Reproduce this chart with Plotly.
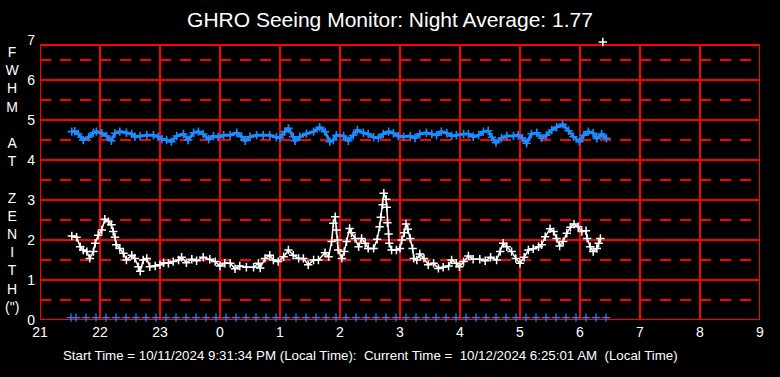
import plotly.graph_objects as go

# ---------------- data ----------------
hour_ticks = [21, 22, 23, 24, 25, 26, 27, 28, 29, 30, 31, 32, 33]
hour_labels = ["21", "22", "23", "0", "1", "2", "3", "4", "5", "6", "7", "8", "9"]
fwhm_ticks = [0, 1, 2, 3, 4, 5, 6, 7]

blue_t = [21.53, 21.58, 21.64, 21.72, 21.81, 21.89, 21.94, 22.03, 22.11, 22.19,
          22.25, 22.33, 22.44, 22.53, 22.58, 22.67, 22.78, 22.89, 22.97, 23.03,
          23.11, 23.19, 23.28, 23.39, 23.47, 23.56, 23.64, 23.72, 23.81, 23.89,
          23.97, 24.06, 24.17, 24.28, 24.36, 24.42, 24.5, 24.61, 24.72, 24.83,
          24.94, 25.0, 25.08, 25.14, 25.22, 25.25, 25.33, 25.44, 25.56, 25.66,
          25.75, 25.83, 25.89, 25.94, 26.06, 26.14, 26.22, 26.29, 26.39, 26.47,
          26.56, 26.64, 26.72, 26.81, 26.89, 26.97, 27.06, 27.17, 27.25, 27.33,
          27.44, 27.53, 27.61, 27.69, 27.78, 27.86, 27.94, 28.06, 28.14, 28.22,
          28.31, 28.39, 28.47, 28.53, 28.6, 28.69, 28.78, 28.89, 28.97, 29.04,
          29.11, 29.19, 29.28, 29.36, 29.44, 29.53, 29.61, 29.71, 29.81, 29.89,
          29.99, 30.06, 30.14, 30.22, 30.28, 30.36, 30.44]
blue_v = [4.71, 4.72, 4.65, 4.50, 4.57, 4.68, 4.71, 4.67, 4.60, 4.48,
          4.67, 4.71, 4.68, 4.65, 4.58, 4.60, 4.62, 4.62, 4.58, 4.52,
          4.50, 4.46, 4.60, 4.65, 4.50, 4.68, 4.71, 4.65, 4.52, 4.60,
          4.57, 4.62, 4.62, 4.68, 4.58, 4.48, 4.58, 4.62, 4.62, 4.62,
          4.57, 4.55, 4.71, 4.79, 4.58, 4.48, 4.58, 4.66, 4.71, 4.82,
          4.71, 4.46, 4.50, 4.62, 4.60, 4.48, 4.62, 4.75, 4.68, 4.65,
          4.57, 4.55, 4.65, 4.71, 4.67, 4.60, 4.58, 4.60, 4.55, 4.65,
          4.68, 4.65, 4.62, 4.71, 4.67, 4.60, 4.62, 4.65, 4.65, 4.58,
          4.62, 4.71, 4.73, 4.57, 4.43, 4.55, 4.60, 4.60, 4.62, 4.55,
          4.42, 4.65, 4.68, 4.55, 4.62, 4.75, 4.82, 4.89, 4.73, 4.58,
          4.46, 4.62, 4.71, 4.67, 4.54, 4.65, 4.54]

white_t = [21.53, 21.61, 21.67, 21.72, 21.78, 21.83, 21.89, 21.92, 21.97, 22.03,
           22.08, 22.14, 22.19, 22.22, 22.25, 22.27, 22.33, 22.39, 22.44, 22.53,
           22.58, 22.64, 22.67, 22.72, 22.78, 22.83, 22.92, 23.00, 23.06, 23.14,
           23.22, 23.31, 23.36, 23.44, 23.53, 23.61, 23.72, 23.83, 23.92, 24.00,
           24.08, 24.17, 24.25, 24.33, 24.44, 24.56, 24.64, 24.67, 24.75, 24.83,
           24.89, 24.97, 25.06, 25.14, 25.22, 25.31, 25.39, 25.47, 25.56, 25.64,
           25.75, 25.81, 25.86, 25.89, 25.92, 25.94, 25.96, 25.97, 26.03, 26.07,
           26.11, 26.16, 26.19, 26.25, 26.31, 26.36, 26.42, 26.47, 26.56, 26.62,
           26.66, 26.68, 26.71, 26.73, 26.77, 26.78, 26.79, 26.81, 26.82, 26.86,
           26.94, 27.00, 27.03, 27.07, 27.10, 27.13, 27.17, 27.21, 27.23, 27.28,
           27.33, 27.40, 27.47, 27.56, 27.64, 27.72, 27.81, 27.86, 27.94, 27.99,
           28.06, 28.14, 28.22, 28.33, 28.42, 28.51, 28.61, 28.67, 28.72, 28.78,
           28.86, 28.93, 29.00, 29.07, 29.14, 29.22, 29.31, 29.36, 29.42, 29.50,
           29.56, 29.61, 29.66, 29.72, 29.78, 29.84, 29.90, 29.97, 30.03, 30.10,
           30.12, 30.17, 30.22, 30.28, 30.31, 30.34]
white_v = [2.10, 2.07, 1.83, 1.75, 1.71, 1.54, 1.71, 1.92, 2.12, 2.25,
           2.52, 2.46, 2.38, 2.21, 2.07, 1.88, 1.79, 1.67, 1.50, 1.62,
           1.54, 1.33, 1.22, 1.50, 1.54, 1.33, 1.35, 1.38, 1.43, 1.42,
           1.46, 1.50, 1.57, 1.43, 1.52, 1.48, 1.57, 1.52, 1.46, 1.35,
           1.42, 1.42, 1.28, 1.35, 1.32, 1.32, 1.42, 1.30, 1.54, 1.62,
           1.50, 1.46, 1.58, 1.75, 1.62, 1.54, 1.54, 1.38, 1.50, 1.50,
           1.68, 1.58, 1.96, 2.42, 2.58, 2.25, 2.00, 1.75, 1.54, 1.71,
           1.96, 2.29, 2.18, 2.04, 1.83, 2.04, 1.92, 1.79, 1.79, 2.02,
           2.33, 2.57, 2.88, 3.17, 3.02, 2.82, 2.43, 2.15, 1.92, 1.75,
           1.75, 1.79, 2.00, 2.18, 2.40, 2.27, 2.04, 1.79, 1.54, 1.50,
           1.65, 1.54, 1.38, 1.42, 1.29, 1.32, 1.35, 1.50, 1.42, 1.33,
           1.46, 1.60, 1.52, 1.52, 1.48, 1.57, 1.50, 1.71, 1.92, 1.83,
           1.71, 1.54, 1.42, 1.57, 1.75, 1.78, 1.83, 1.88, 2.08, 2.28,
           2.21, 2.04, 1.85, 1.96, 2.17, 2.32, 2.40, 2.33, 2.21, 2.23,
           2.04, 1.83, 1.71, 1.79, 1.92, 2.04]

# single off-scale reading drawn above the frame
outlier_t = [30.38]
outlier_v = [6.95]

# bottom blue markers: minutes after 21:00
zero_minutes = [31, 36, 46, 56, 66, 76, 86, 96, 106, 116, 126, 136, 146, 156, 166,
                176, 186, 196, 206, 216, 226, 236, 246, 256, 266, 276, 286, 296,
                306, 316, 326, 336, 346, 356, 366, 376, 386, 396, 406, 416, 426,
                436, 446, 456, 466, 476, 486, 496, 506, 516, 526, 536, 546, 556, 566]
zero_level = 0.06

title_text = "GHRO Seeing Monitor: Night Average: 1.77"
footer_text = ("Start Time = 10/11/2024 9:31:34 PM (Local Time):\u00a0 Current Time =\u00a0 "
               "10/12/2024 6:25:01 AM\u00a0 (Local Time)")
ylabel_lines = ["F", "W", "H", "M", "\u00a0", "A", "T", "\u00a0",
                "Z", "E", "N", "I", "T", "H", "(\")"]

assert len(blue_t) == len(blue_v)
assert len(white_t) == len(white_v)

# ---------------- styling ----------------
FONT = "Arial, 'Liberation Sans', sans-serif"
BLUE = "#1E8CFF"
RED = "#FF0000"
X0, X1 = 21, 33
YTOP = 6.875

fig = go.Figure()

# blue series: dense crosses forming a band
fig.add_trace(go.Scatter(
    x=blue_t, y=blue_v, mode="lines+markers",
    line=dict(color=BLUE, width=3),
    marker=dict(symbol="cross-thin", size=6, line=dict(width=1.6, color=BLUE)),
    hoverinfo="skip", showlegend=False, cliponaxis=False))

# white series
fig.add_trace(go.Scatter(
    x=white_t, y=white_v, mode="lines+markers",
    line=dict(color="white", width=1.5),
    marker=dict(symbol="cross-thin", size=6, line=dict(width=1.5, color="white")),
    hoverinfo="skip", showlegend=False, cliponaxis=False))

fig.add_trace(go.Scatter(
    x=outlier_t, y=outlier_v, mode="markers",
    marker=dict(symbol="cross-thin", size=6, line=dict(width=1.6, color="white")),
    hoverinfo="skip", showlegend=False, cliponaxis=False))

fig.add_trace(go.Scatter(
    x=[X0 + m / 60 for m in zero_minutes], y=[zero_level] * len(zero_minutes),
    mode="markers",
    marker=dict(symbol="cross-thin", size=6, line=dict(width=1.2, color=BLUE)),
    hoverinfo="skip", showlegend=False, cliponaxis=False))

shapes = []
for v in [1, 2, 3, 4, 5, 6]:
    shapes.append(dict(type="line", xref="x", yref="y", x0=X0, x1=X1, y0=v, y1=v,
                       line=dict(color=RED, width=2), layer="below"))
for v in [0.5, 1.5, 2.5, 3.5, 4.5, 5.5, 6.5]:
    shapes.append(dict(type="line", xref="x", yref="y", x0=X0, x1=X1, y0=v, y1=v,
                       line=dict(color=RED, width=2, dash="11px,9px"), layer="below"))
for h in hour_ticks:
    shapes.append(dict(type="line", xref="x", yref="y", x0=h, x1=h, y0=0, y1=YTOP,
                       line=dict(color=RED, width=2), layer="below"))
for v in [0, YTOP]:
    shapes.append(dict(type="line", xref="x", yref="y", x0=X0, x1=X1, y0=v, y1=v,
                       line=dict(color=RED, width=2), layer="below"))

annotations = [
    dict(text="<br>".join(ylabel_lines), xref="paper", yref="paper",
         x=(12 - 40) / 720, y=(320 - 179) / 280, xanchor="center", yanchor="middle",
         showarrow=False, font=dict(family=FONT, size=14, color="white"), align="center"),
    dict(text=footer_text, xref="paper", yref="paper",
         x=(370 - 40) / 720, y=(320 - 355) / 280, xanchor="center", yanchor="middle",
         showarrow=False, font=dict(family=FONT, size=13.3, color="white")),
]

fig.update_layout(
    width=780, height=377,
    margin=dict(l=40, r=20, t=40, b=57, pad=0),
    paper_bgcolor="black", plot_bgcolor="black",
    font=dict(family=FONT, color="white", size=14),
    title=dict(text=title_text, x=0.5, xanchor="center", y=1 - 20 / 377, yanchor="middle",
               font=dict(family=FONT, size=21, color="white")),
    xaxis=dict(range=[X0, X1], tickvals=hour_ticks, ticktext=hour_labels,
               showgrid=False, zeroline=False, showline=False, ticks="",
               ticklabelstandoff=2,
               tickfont=dict(family=FONT, size=14, color="white"), fixedrange=True),
    yaxis=dict(range=[0, 7], tickvals=fwhm_ticks, showgrid=False, zeroline=False,
               showline=False, ticks="", ticklabelstandoff=4,
               tickfont=dict(family=FONT, size=14, color="white"), fixedrange=True),
    shapes=shapes, annotations=annotations,
)

fig.write_html("out.html", config={"displayModeBar": False},
               post_script="document.body.style.margin='0';")
